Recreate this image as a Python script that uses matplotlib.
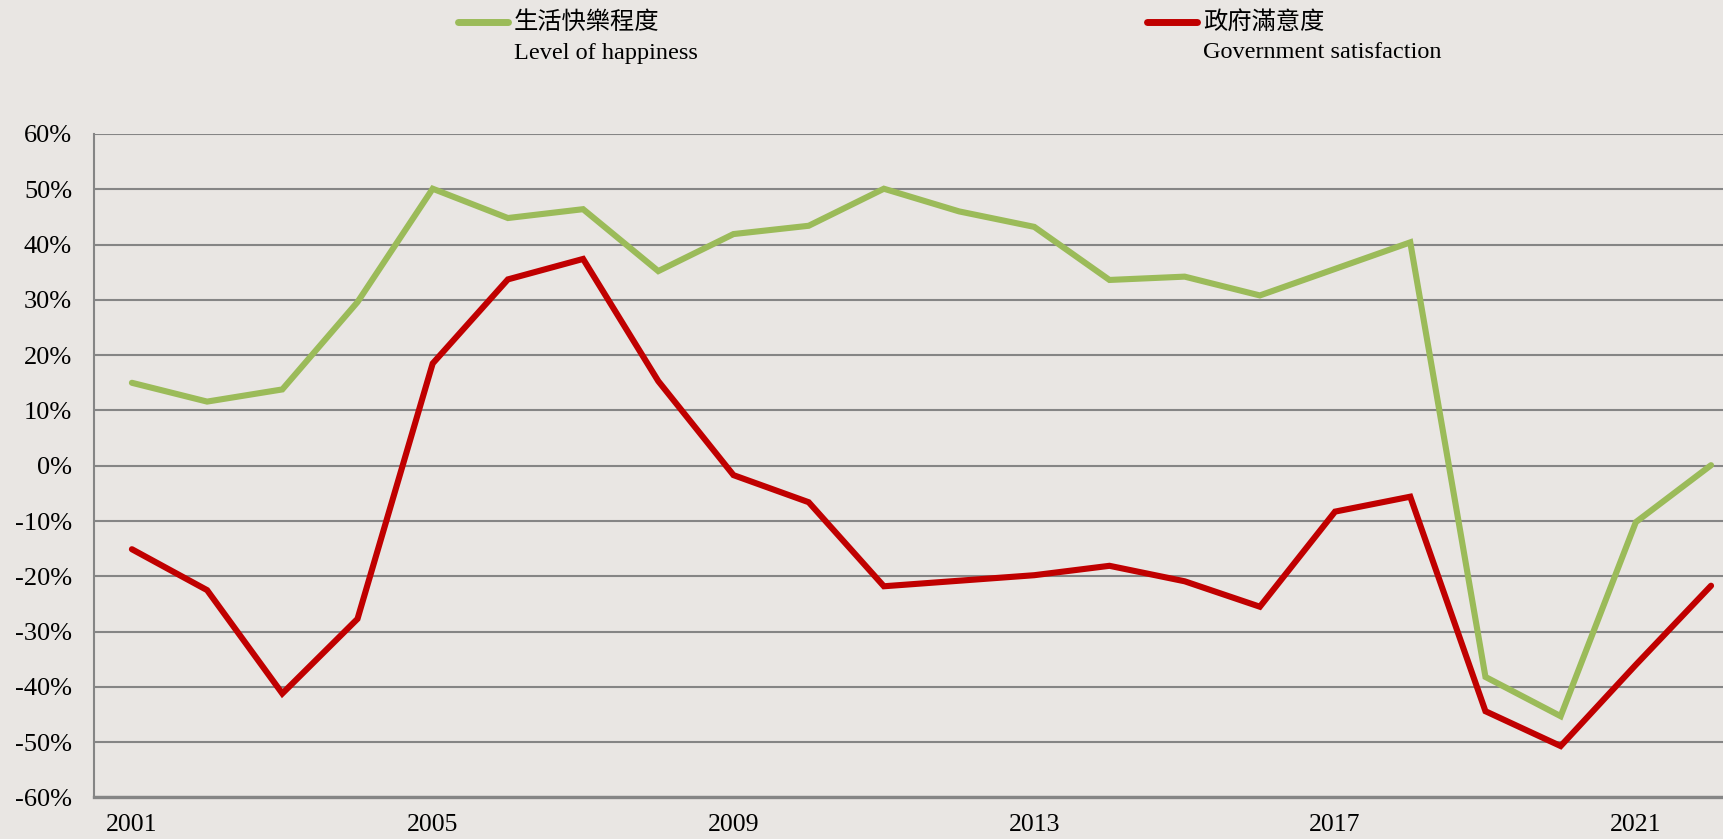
import matplotlib
matplotlib.use("Agg")
import matplotlib.pyplot as plt
from matplotlib.lines import Line2D

plt.rcParams['font.family'] = ['Liberation Serif', 'Noto Sans CJK TC']

# data (percent)
years = [str(y) for y in range(2001, 2023)]
happiness = [15.0, 11.6, 13.8, 29.6, 50.1, 44.8, 46.4, 35.2, 41.9, 43.4, 50.1,
             46.0, 43.2, 33.6, 34.2, 30.8, 35.6, 40.4, -38.2, -45.3, -10.2, 0.1]
government = [-15.1, -22.5, -41.2, -27.7, 18.5, 33.7, 37.4, 15.3, -1.7, -6.6, -21.8,
              -20.8, -19.8, -18.1, -20.9, -25.5, -8.3, -5.6, -44.4, -50.7, -36.0, -21.7]
yticks = [60, 50, 40, 30, 20, 10, 0, -10, -20, -30, -40, -50, -60]
ytick_labels = [f'{v}%' for v in yticks]
xtick_years = ['2001', '2005', '2009', '2013', '2017', '2021']

bg = '#E9E6E3'
green = '#9BBB59'
red = '#C00000'
grid_col = '#858585'

fig = plt.figure(figsize=(17.24, 8.39), dpi=100, facecolor=bg)
ax = fig.add_axes([0.0547, 0.0495, 0.9596, 0.7908], facecolor=bg)

x = list(range(len(years)))
ax.plot(x, happiness, color=green, lw=4.4, solid_joinstyle='miter', solid_capstyle='round', zorder=3)
ax.plot(x, government, color=red, lw=4.4, solid_joinstyle='miter', solid_capstyle='round', zorder=3)

ax.set_xlim(-0.5, len(years) - 0.5)
ax.set_ylim(-60, 60)
ax.set_yticks(yticks)
ax.set_yticklabels(ytick_labels)
ax.set_xticks([years.index(y) for y in xtick_years])
ax.set_xticklabels(xtick_years)
ax.tick_params(axis='y', length=0, pad=16, labelsize=19)
ax.tick_params(axis='x', length=0, pad=12, labelsize=18.5)

for v in yticks:
    ax.axhline(v, color=grid_col, lw=1.5, zorder=1)
for s in ['top', 'right']:
    ax.spines[s].set_visible(False)
ax.spines['left'].set_color(grid_col)
ax.spines['left'].set_linewidth(1.5)
ax.spines['bottom'].set_color(grid_col)
ax.spines['bottom'].set_linewidth(2.4)

# legend drawn manually in figure pixels
W, H = 1724, 839
def leg(x0, color, zh, en):
    fig.add_artist(Line2D([x0 / W, (x0 + 50) / W], [1 - 22 / H, 1 - 22 / H],
                          color=color, lw=5, solid_capstyle='round'))
    fig.text((x0 + 56) / W, 1 - 22 / H, zh, fontsize=17.5, va='center', ha='left',
             family=['Noto Sans CJK TC', 'Liberation Serif'], fontweight='light')
    fig.text((x0 + 56) / W, 1 - 53 / H, en, fontsize=17.5, va='center', ha='left')

leg(458, green, '生活快樂程度', 'Level of happiness')
leg(1147, red, '政府滿意度', 'Government satisfaction')

fig.savefig('out.png', dpi=100, facecolor=bg)
